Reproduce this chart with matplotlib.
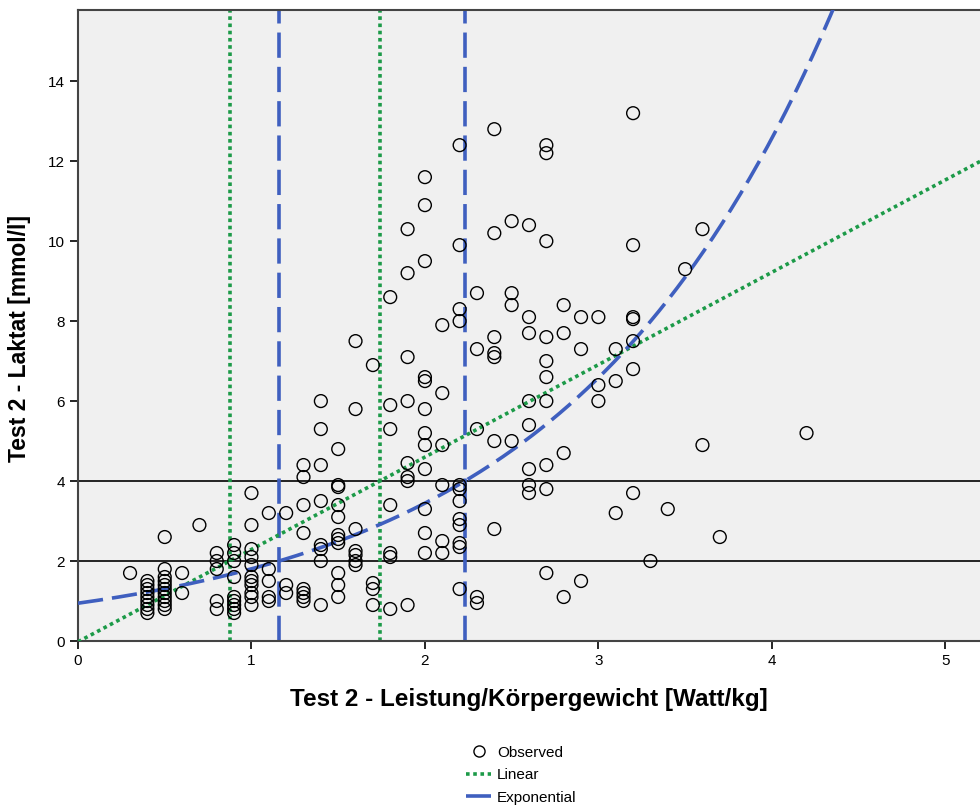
import numpy as np
import matplotlib.pyplot as plt
from matplotlib.lines import Line2D

plt.rcParams['font.family'] = ['Liberation Sans', 'DejaVu Sans']

# observed points: power/body weight (W/kg) and lactate (mmol/l), grouped by x
obs_x = ([0.3] + [0.4] * 9 + [0.5] * 11 + [0.6] * 2 + [0.7] + [0.8] * 5 + [0.9] * 9
         + [1.0] * 11 + [1.1] * 5 + [1.2] * 3 + [1.3] * 8 + [1.4] * 8 + [1.5] * 11
         + [1.6] * 7 + [1.7] * 4 + [1.8] * 7 + [1.9] * 8 + [2.0] * 12 + [2.1] * 6
         + [2.2] * 12 + [2.3] * 5 + [2.4] * 7 + [2.5] * 4 + [2.6] * 8 + [2.7] * 10
         + [2.8] * 4 + [2.9] * 3 + [3.0] * 3 + [3.1] * 3 + [3.2] * 7 + [3.3] + [3.4]
         + [3.5] + [3.6] * 2 + [3.7] + [4.2])
obs_y = [1.7,
         0.7, 0.8, 0.9, 1.0, 1.1, 1.2, 1.3, 1.4, 1.5,
         0.8, 0.9, 1.0, 1.1, 1.2, 1.3, 1.4, 1.5, 1.6, 1.8, 2.6,
         1.2, 1.7,
         2.9,
         0.8, 1.0, 1.8, 2.0, 2.2,
         0.7, 0.8, 0.9, 1.0, 1.1, 1.6, 2.0, 2.2, 2.4,
         0.9, 1.1, 1.2, 1.4, 1.5, 1.6, 1.9, 2.1, 2.3, 2.9, 3.7,
         1.0, 1.1, 1.5, 1.8, 3.2,
         1.2, 1.4, 3.2,
         1.0, 1.1, 1.2, 1.3, 2.7, 3.4, 4.1, 4.4,
         0.9, 2.0, 2.3, 2.4, 3.5, 4.4, 5.3, 6.0,
         1.1, 1.4, 1.7, 2.45, 2.55, 2.65, 3.1, 3.4, 3.85, 3.9, 4.8,
         1.9, 2.0, 2.15, 2.25, 2.8, 5.8, 7.5,
         0.9, 1.3, 1.45, 6.9,
         0.8, 2.1, 2.2, 3.4, 5.3, 5.9, 8.6,
         0.9, 4.0, 4.1, 4.45, 6.0, 7.1, 9.2, 10.3,
         2.2, 2.7, 3.3, 4.3, 4.9, 5.2, 5.8, 6.5, 6.6, 9.5, 10.9, 11.6,
         2.2, 2.5, 3.9, 4.9, 6.2, 7.9,
         1.3, 2.35, 2.45, 2.9, 3.05, 3.5, 3.8, 3.9, 8.0, 8.3, 9.9, 12.4,
         0.95, 1.1, 5.3, 7.3, 8.7,
         2.8, 5.0, 7.1, 7.2, 7.6, 10.2, 12.8,
         5.0, 8.4, 8.7, 10.5,
         3.7, 3.9, 4.3, 5.4, 6.0, 7.7, 8.1, 10.4,
         1.7, 3.8, 4.4, 6.0, 6.6, 7.0, 7.6, 10.0, 12.2, 12.4,
         1.1, 4.7, 7.7, 8.4,
         1.5, 7.3, 8.1,
         6.0, 6.4, 8.1,
         3.2, 6.5, 7.3,
         3.7, 6.8, 7.5, 8.05, 8.1, 9.9, 13.2,
         2.0,
         3.3,
         9.3,
         4.9, 10.3,
         2.6,
         5.2]

# fitted curves
lin_slope, lin_intercept = 2.31, -0.02
exp_a, exp_b = 0.945, 0.647
thresholds = [2, 4]

green = '#1c9a48'
blue = '#3f5fbf'
dots = (0, (1, 1))
dashes = (0, (7, 2.5))

fig = plt.figure(figsize=(9.8, 8.07), dpi=100)
ax = fig.add_axes([0.0796, 0.2057, 0.9204, 0.7819])
ax.set_facecolor('#f0f0f0')

x_max, y_max = 5.2, 15.78
xs = np.linspace(0, x_max, 400)

for t in thresholds:
    ax.axhline(t, color='black', lw=1.2, zorder=1)
    ax.axvline((t - lin_intercept) / lin_slope, color=green, lw=2.6,
               linestyle=dots, zorder=2)
    ax.axvline(np.log(t / exp_a) / exp_b, color=blue, lw=2.6,
               linestyle=dashes, zorder=2)

ax.plot(xs, lin_slope * xs + lin_intercept, color=green, lw=2.6,
        linestyle=dots, zorder=3)
ax.plot(xs, exp_a * np.exp(exp_b * xs), color=blue, lw=2.6,
        linestyle=dashes, zorder=3)

ax.scatter(obs_x, obs_y, s=85, facecolors='none', edgecolors='black',
           linewidths=1.0, zorder=4)

ax.set_xlim(0, x_max)
ax.set_ylim(0, y_max)
ax.set_xticks(range(0, 6))
ax.set_yticks(range(0, 15, 2))
ax.tick_params(direction='out', length=6, width=1.2, labelsize=11, colors='black')
for s in ['left', 'bottom', 'top']:
    ax.spines[s].set_color('#444444')
    ax.spines[s].set_linewidth(1.5)
ax.spines['right'].set_visible(False)

ax.set_xlabel('Test 2 - Leistung/Körpergewicht [Watt/kg]', fontsize=17.5,
              fontweight='bold', labelpad=14)
ax.set_ylabel('Test 2 - Laktat [mmol/l]', fontsize=16.5, fontweight='bold',
              labelpad=14)
ax.yaxis.set_label_coords(-0.052, 0.48)

handles = [
    Line2D([], [], marker='o', linestyle='none', markerfacecolor='none',
           markeredgecolor='black', markersize=8),
    Line2D([], [], color=green, lw=2.6, linestyle=dots),
    Line2D([], [], color=blue, lw=2.6, linestyle=dashes),
]
fig.legend(handles, ['Observed', 'Linear', 'Exponential'], loc='upper center',
           bbox_to_anchor=(0.532, 0.093), frameon=False, fontsize=11,
           handlelength=1.6, handletextpad=0.4, labelspacing=0.55)

fig.savefig('out.png', dpi=100)
